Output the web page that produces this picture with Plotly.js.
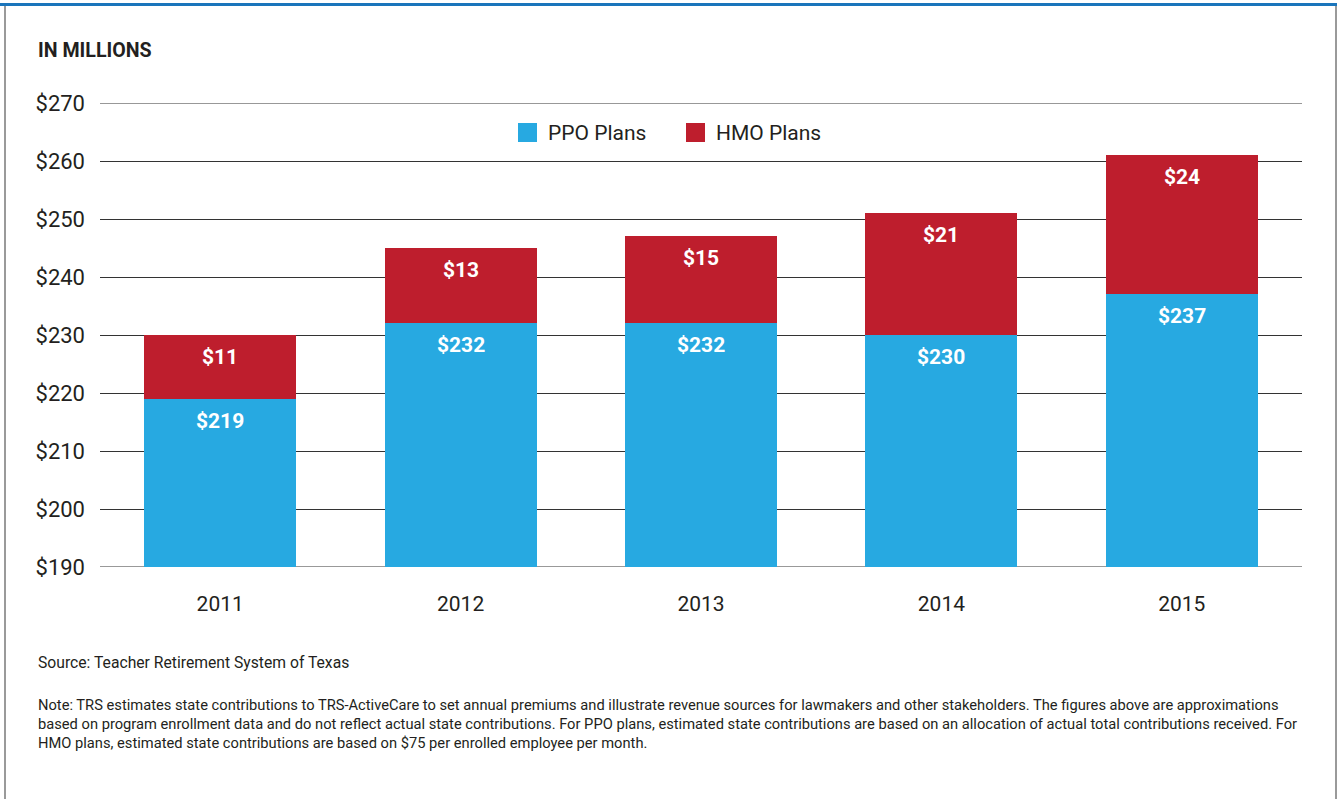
<!DOCTYPE html>
<html>
<head>
<meta charset="utf-8">
<script src="https://cdn.plot.ly/plotly-3.0.1.min.js"></script>
<style>
html,body{margin:0;padding:0;background:#fff;}
#wrap{position:relative;width:1337px;height:799px;overflow:hidden;}
#chart{position:absolute;left:0;top:0;width:1337px;height:799px;}
.bl{position:absolute;}
</style>
</head>
<body>
<div id="wrap">
<div id="chart"></div>
<div class="bl" style="left:0;top:3px;width:1337px;height:3px;background:#1a75bb;"></div>
<div class="bl" style="left:4px;top:6px;width:2px;height:793px;background:#9a9a9a;"></div>
<div class="bl" style="left:1335px;top:6px;width:2px;height:793px;background:#9a9a9a;"></div>
</div>
<script>
const years = ['2011','2012','2013','2014','2015'];
const ppo = [219, 232, 232, 230, 237];
const hmo = [11, 13, 15, 21, 24];
const seriesNames = ['PPO Plans','HMO Plans'];
const colors = ['#27a9e1','#be1e2d'];
const yTicks = [190,200,210,220,230,240,250,260,270];

const FONT = 'Roboto, "Liberation Sans", sans-serif';
const TXT = '#231f20';

const traces = [
  {type:'bar', x:years, y:ppo, name:seriesNames[0], marker:{color:colors[0]}, showlegend:false, hoverinfo:'skip'},
  {type:'bar', x:years, y:hmo, name:seriesNames[1], marker:{color:colors[1]}, showlegend:false, hoverinfo:'skip'}
];

const W = 1202, L = 100, T = 103, H = 464;
function px(x){return (x - L)/W;}
function py(y){return 1 - (y - T)/H;}
const shapes = [];
const annotations = [];

// gridlines at the range edges (Plotly drops them at the plot border)
[yTicks[0], yTicks[yTicks.length-1]].forEach(v=>{
  shapes.push({type:'line', xref:'paper', yref:'y', x0:0, x1:1, y0:v, y1:v, line:{color:'#333333', width:1}, layer:'below'});
});

// value labels near the top of each segment (category index on x)
years.forEach((yr,i)=>{
  annotations.push({x:i, y:ppo[i], xref:'x', yref:'y', yanchor:'top', yshift:-8, text:'<b>$'+ppo[i]+'</b>', showarrow:false, font:{family:FONT, size:21, color:'#ffffff'}});
  annotations.push({x:i, y:ppo[i]+hmo[i], xref:'x', yref:'y', yanchor:'top', yshift:-8, text:'<b>$'+hmo[i]+'</b>', showarrow:false, font:{family:FONT, size:21, color:'#ffffff'}});
});

// legend drawn as shapes + annotations (paper coords)
const legX = [518, 686];
seriesNames.forEach((n,i)=>{
  shapes.push({type:'rect', xref:'paper', yref:'paper', x0:px(legX[i]), x1:px(legX[i]+19), y0:py(142), y1:py(123), fillcolor:colors[i], line:{width:0}});
  annotations.push({xref:'paper', yref:'paper', x:px(legX[i]+28), y:py(133), xanchor:'left', yanchor:'middle', text:n, showarrow:false, font:{family:FONT, size:21, color:TXT}});
});
annotations.push({xref:'paper', yref:'paper', x:px(36), y:py(50), xanchor:'left', yanchor:'middle', text:'<b>IN MILLIONS</b>', showarrow:false, font:{family:FONT, size:19.6, color:TXT}});
annotations.push({xref:'paper', yref:'paper', x:px(36), y:py(662), xanchor:'left', yanchor:'middle', text:'Source: Teacher Retirement System of Texas', showarrow:false, font:{family:FONT, size:15.7, color:TXT}});
annotations.push({xref:'paper', yref:'paper', x:px(36), y:py(694), xanchor:'left', yanchor:'top', align:'left',
  text:'Note: TRS estimates state contributions to TRS-ActiveCare to set annual premiums and illustrate revenue sources for lawmakers and other stakeholders. The figures above are approximations<br>based on program enrollment data and do not reflect actual state contributions. For PPO plans, estimated state contributions are based on an allocation of actual total contributions received. For<br>HMO plans, estimated state contributions are based on $75 per enrolled employee per month.',
  showarrow:false, font:{family:FONT, size:14.7, color:TXT}});

const layout = {
  width:1337, height:799,
  margin:{l:L, r:1337-L-W, t:T, b:799-T-H, pad:0},
  paper_bgcolor:'#ffffff', plot_bgcolor:'#ffffff',
  barmode:'stack', bargap:0.367,
  showlegend:false,
  font:{family:FONT, color:TXT},
  xaxis:{type:'category', range:[-0.5,4.5], showgrid:false, zeroline:false, showline:false, ticks:'',
    tickfont:{family:FONT, size:21, color:TXT}, ticklabelstandoff:22, fixedrange:true},
  yaxis:{range:[190,270], tickvals:yTicks, ticktext:yTicks.map(v=>'$'+v), showgrid:true, gridcolor:'#333333', gridwidth:1,
    zeroline:false, showline:false, ticks:'', tickfont:{family:FONT, size:22, color:TXT}, ticklabelstandoff:14, fixedrange:true},
  shapes:shapes, annotations:annotations
};
Plotly.newPlot('chart', traces, layout, {displayModeBar:false, staticPlot:true});
</script>
</body>
</html>
